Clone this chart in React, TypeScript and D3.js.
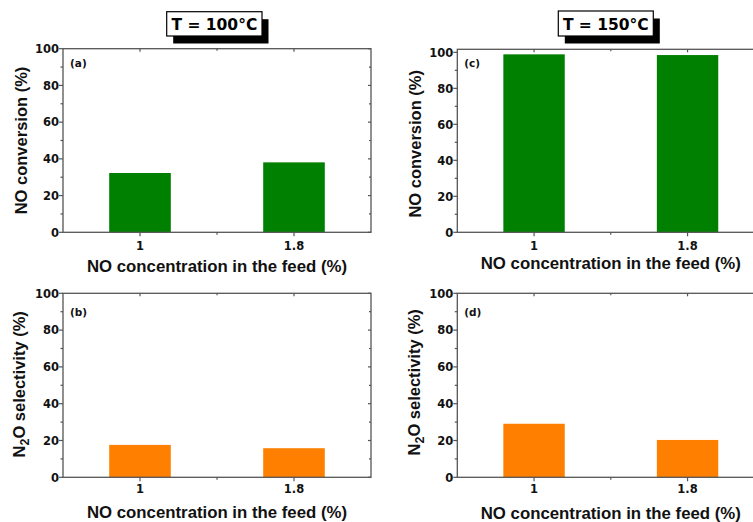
import React from "react";
import * as d3 from "d3";

// Feed NO concentration categories (%)
const categories = ["1", "1.8"];

// T = 100 °C
const conversion100 = [32.3, 38.1];
const selectivity100 = [17.6, 15.8];

// T = 150 °C
const conversion150 = [98.9, 98.5];
const selectivity150 = [29.1, 20.3];

const yTicks = [0, 20, 40, 60, 80, 100];
const yMinorTicks = [10, 30, 50, 70, 90];

const GREEN = "#008000";
const ORANGE = "#FF8000";
const AXIS = "#555";
const TITLE_FONT = "'Liberation Sans', Arial, Helvetica, sans-serif";
const TICK_FONT = "'DejaVu Sans', Verdana, sans-serif";

type PanelProps = {
  left: number;
  right: number;
  top: number;
  zeroY: number;
  yMax: number;
  values: number[];
  color: string;
  letter: string;
  letterY: number;
  yLabel: "conv" | "sel";
  yLabelX: number;
  yLabelShift: number;
  tickBaseline: number;
  xTitleBaseline: number;
};

function Panel(p: PanelProps) {
  const x = d3
    .scaleBand<string>()
    .domain(categories)
    .range([p.left, p.right])
    .paddingInner(0.6)
    .paddingOuter(0.3);
  const y = d3.scaleLinear().domain([0, p.yMax]).range([p.zeroY, p.top]);
  const centers = categories.map((c) => (x(c) as number) + x.bandwidth() / 2);
  const xTickPos = [centers[0], (centers[0] + centers[1]) / 2, centers[1]];
  const midY = (p.top + p.zeroY) / 2 + p.yLabelShift;
  const midX = (p.left + p.right) / 2;

  return (
    <g>
      {/* bars */}
      {p.values.map((v, i) => (
        <rect
          key={i}
          x={x(categories[i])}
          y={y(v)}
          width={x.bandwidth()}
          height={y(0) - y(v)}
          fill={p.color}
        />
      ))}
      {/* frame */}
      <rect
        x={p.left}
        y={p.top}
        width={p.right - p.left}
        height={p.zeroY - p.top}
        fill="none"
        stroke={AXIS}
        strokeWidth={1.3}
      />
      {/* y ticks */}
      {yTicks.map((t) => (
        <g key={t}>
          <line x1={p.left - 4} x2={p.left} y1={y(t)} y2={y(t)} stroke={AXIS} strokeWidth={1.2} />
          <line x1={p.right - 3} x2={p.right} y1={y(t)} y2={y(t)} stroke={AXIS} strokeWidth={1.2} />
          <text
            x={p.left - 4}
            y={y(t) + 4.2}
            textAnchor="end"
            fontFamily={TICK_FONT}
            fontWeight="bold"
            fontSize={11.5}
            fill="#111"
          >
            {t}
          </text>
        </g>
      ))}
      {yMinorTicks.map((t) => (
        <g key={t}>
          <line x1={p.left - 2.5} x2={p.left} y1={y(t)} y2={y(t)} stroke={AXIS} strokeWidth={1.2} />
          <line x1={p.right - 2} x2={p.right} y1={y(t)} y2={y(t)} stroke={AXIS} strokeWidth={1.2} />
        </g>
      ))}
      {/* x ticks */}
      {xTickPos.map((xx, i) => (
        <g key={i}>
          <line x1={xx} x2={xx} y1={p.zeroY} y2={p.zeroY + (i === 1 ? 2.5 : 4)} stroke={AXIS} strokeWidth={1.2} />
          <line x1={xx} x2={xx} y1={p.top} y2={p.top + (i === 1 ? 2 : 3)} stroke={AXIS} strokeWidth={1.2} />
        </g>
      ))}
      {categories.map((c, i) => (
        <text
          key={c}
          x={centers[i]}
          y={p.tickBaseline}
          textAnchor="middle"
          fontFamily={TICK_FONT}
          fontWeight="bold"
          fontSize={11.5}
          fill="#111"
        >
          {c}
        </text>
      ))}
      {/* panel letter */}
      <text
        x={p.left + 7}
        y={p.letterY}
        fontFamily={TICK_FONT}
        fontWeight="bold"
        fontSize={10.5}
        fill="#111"
      >
        {p.letter}
      </text>
      {/* x title */}
      <text
        x={midX}
        y={p.xTitleBaseline}
        textAnchor="middle"
        fontFamily={TITLE_FONT}
        fontWeight="bold"
        fontSize={16.8}
        fill="#111"
      >
        NO concentration in the feed (%)
      </text>
      {/* y title */}
      <text
        transform={`translate(${p.yLabelX},${midY}) rotate(-90)`}
        textAnchor="middle"
        fontFamily={TITLE_FONT}
        fontWeight="bold"
        fontSize={16.5}
        fill="#111"
      >
        {p.yLabel === "conv" ? (
          "NO conversion (%)"
        ) : (
          <>
            N
            <tspan fontSize={12.5} dy={4}>
              2
            </tspan>
            <tspan dy={-4}>O selectivity (%)</tspan>
          </>
        )}
      </text>
    </g>
  );
}

function TitleBox({ x, y, w, h, label }: { x: number; y: number; w: number; h: number; label: string }) {
  return (
    <g>
      <rect x={x + 6.5} y={y + 7.5} width={w} height={h} fill="#000" />
      <rect x={x} y={y} width={w} height={h} fill="#fff" stroke="#000" strokeWidth={1.2} />
      <text
        x={x + w / 2}
        y={y + 18.5}
        textAnchor="middle"
        fontFamily={TICK_FONT}
        fontWeight="bold"
        fontSize={15.5}
        fill="#000"
      >
        {label}
      </text>
    </g>
  );
}

export default function App() {
  return (
    <svg
      width={753}
      height={522}
      style={{ position: "absolute", left: 0, top: 0, background: "#fff" }}
    >
      <rect width={753} height={522} fill="#fff" />
      <Panel
        left={63}
        right={371}
        top={48.7}
        zeroY={232.3}
        yMax={100}
        values={conversion100}
        color={GREEN}
        letter="(a)"
        letterY={67}
        yLabel="conv"
        yLabelX={26.5}
        yLabelShift={0}
        tickBaseline={249.5}
        xTitleBaseline={272}
      />
      <Panel
        left={63}
        right={371}
        top={293.3}
        zeroY={477.3}
        yMax={100}
        values={selectivity100}
        color={ORANGE}
        letter="(b)"
        letterY={315.5}
        yLabel="sel"
        yLabelX={25}
        yLabelShift={-1}
        tickBaseline={493.3}
        xTitleBaseline={517.5}
      />
      <Panel
        left={457.3}
        right={764.3}
        top={49.3}
        zeroY={232.3}
        yMax={101.7}
        values={conversion150}
        color={GREEN}
        letter="(c)"
        letterY={67}
        yLabel="conv"
        yLabelX={420.5}
        yLabelShift={3}
        tickBaseline={250}
        xTitleBaseline={269.3}
      />
      <Panel
        left={457.3}
        right={764.3}
        top={293.3}
        zeroY={477.3}
        yMax={100}
        values={selectivity150}
        color={ORANGE}
        letter="(d)"
        letterY={315.5}
        yLabel="sel"
        yLabelX={420}
        yLabelShift={-3}
        tickBaseline={492.7}
        xTitleBaseline={518.5}
      />
      <TitleBox x={166.7} y={11.7} w={95.3} h={24.3} label="T = 100°C" />
      <TitleBox x={558.3} y={11} w={95} h={25} label="T = 150°C" />
    </svg>
  );
}
